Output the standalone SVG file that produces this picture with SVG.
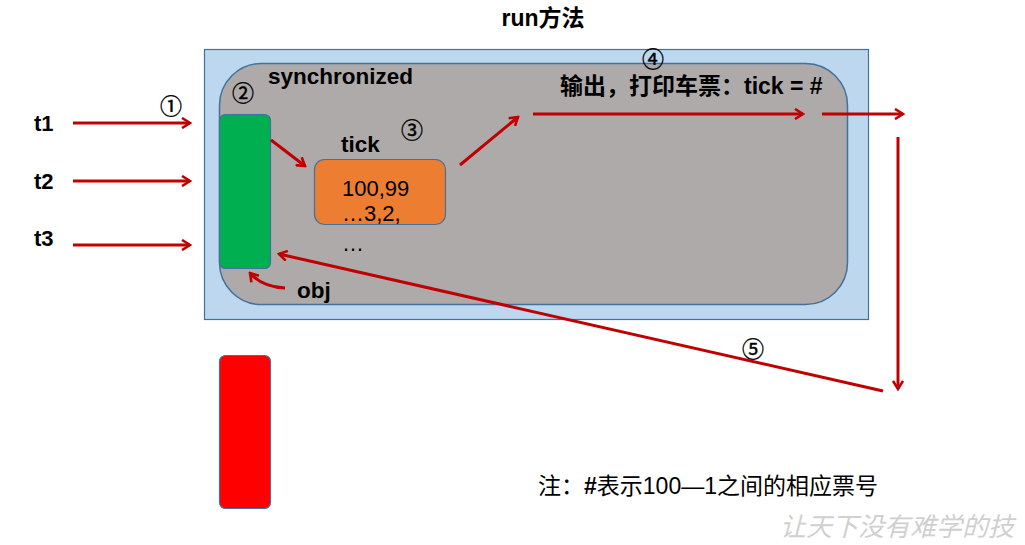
<svg xmlns="http://www.w3.org/2000/svg" width="1025" height="545" viewBox="0 0 1025 545">
<defs>
<marker id="ah" viewBox="0 0 12 12" refX="10" refY="6" markerWidth="12" markerHeight="12" markerUnits="userSpaceOnUse" orient="auto">
<path d="M2,1 L10,6 L2,11" fill="none" stroke="#c00000" stroke-width="2.6"/>
</marker>
</defs>
<style>
.b{font-family:"Liberation Sans","Noto Sans CJK SC",sans-serif;font-weight:bold;fill:#000}
.n{font-family:"Liberation Sans","Noto Sans CJK SC",sans-serif;fill:#000}
.c{font-family:"Noto Sans CJK SC",sans-serif;fill:#000;font-size:22px;stroke:#000;stroke-width:0.4}
.ln{fill:none;stroke:#c00000;stroke-width:3;marker-end:url(#ah)}
</style>
<rect width="1025" height="545" fill="#fff"/>
<text class="b" x="543" y="26" font-size="23" text-anchor="middle">run方法</text>
<g id="outer"><rect x="204.5" y="49.5" width="664" height="270" fill="#bdd7ee" stroke="#41719c" stroke-width="1.2"/></g>
<g id="sync"><rect x="219.5" y="63.5" width="628" height="241" rx="42" fill="#aeaaaa" stroke="#41719c" stroke-width="1.5"/>
<text class="b" x="268" y="84" font-size="22.5">synchronized</text></g>
<g id="green"><rect x="219.5" y="114.5" width="51" height="154" rx="6" fill="#00b050" stroke="#41719c" stroke-width="1.2"/></g>
<g id="tick"><text class="b" x="341" y="152" font-size="22.5">tick</text>
<rect x="314.5" y="159.5" width="131" height="65" rx="10" fill="#ed7d31" stroke="#41719c" stroke-width="1.2"/>
<text class="n" x="342" y="196" font-size="22">100,99</text>
<text class="n" x="342" y="221" font-size="22">…3,2,</text>
<text class="n" x="342" y="251" font-size="22">…</text></g>
<g id="red"><rect x="219.5" y="355.5" width="51" height="153" rx="6" fill="#ff0000" stroke="#41719c" stroke-width="1.2"/></g>
<g id="labels">
<text class="b" x="34" y="131" font-size="22">t1</text>
<text class="b" x="34" y="189" font-size="22">t2</text>
<text class="b" x="34" y="246" font-size="22">t3</text>
<text class="b" x="297" y="298" font-size="22.5">obj</text>
<text class="b" x="560" y="94" font-size="23">输出，打印车票：tick = #</text>
<text class="c" x="171" y="114" text-anchor="middle">①</text>
<text class="c" x="243" y="101" text-anchor="middle">②</text>
<text class="c" x="412" y="138" text-anchor="middle">③</text>
<text class="c" x="653" y="67" text-anchor="middle">④</text>
<text class="c" x="753" y="357" text-anchor="middle">⑤</text>
<text class="n" x="538" y="494" font-size="23">注：<tspan font-weight="bold">#</tspan>表示100—1之间的相应票号</text>
<text x="780" y="536" font-size="26" fill="#d0d0d0" font-style="italic" font-family="'Noto Sans CJK SC',sans-serif">让天下没有难学的技</text>
</g>
<g id="connectors">
<line class="ln" x1="73" y1="123" x2="190" y2="123"/>
<line class="ln" x1="73" y1="181" x2="190" y2="181"/>
<line class="ln" x1="73" y1="245" x2="190" y2="245"/>
<line class="ln" x1="271" y1="140" x2="305" y2="166"/>
<line class="ln" x1="460" y1="165" x2="518" y2="117"/>
<line class="ln" x1="533" y1="114" x2="803" y2="114"/>
<line class="ln" x1="822" y1="114" x2="903" y2="114"/>
<line class="ln" x1="898" y1="137" x2="898" y2="389"/>
<line class="ln" x1="883" y1="391" x2="279" y2="254"/>
<path class="ln" d="M285,288 Q262,287 250,273"/>
</g>
</svg>
